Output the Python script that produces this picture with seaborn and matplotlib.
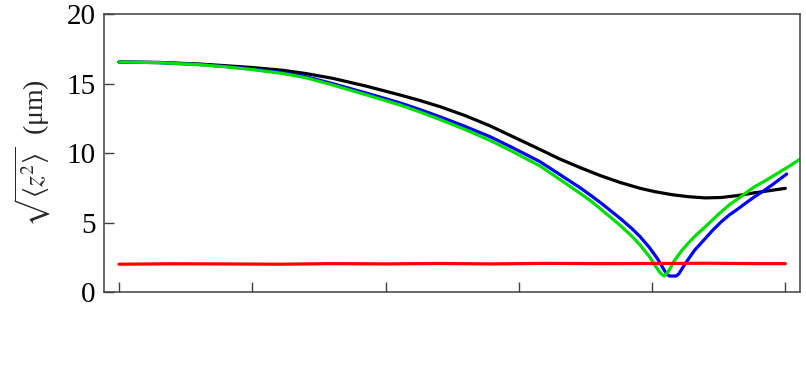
import matplotlib
matplotlib.use("Agg")
import matplotlib.pyplot as plt
import seaborn as sns

# datos (x en unidades de marca, y en um)
x_black = [0, 0.3, 0.61, 0.8, 1.0, 1.23, 1.4, 1.6, 1.86, 2.11, 2.25, 2.41, 2.6, 2.785, 2.95,
           3.16, 3.3, 3.46, 3.61, 3.76, 3.91, 4.02, 4.15, 4.27, 4.4, 4.52, 4.65, 4.77, 4.9, 5.0]
y_black = [16.55, 16.52, 16.4, 16.28, 16.15, 15.95, 15.72, 15.38, 14.8, 14.17, 13.8, 13.33, 12.68, 11.95, 11.2,
           10.25, 9.6, 8.95, 8.38, 7.88, 7.46, 7.22, 7.0, 6.86, 6.77, 6.8, 6.95, 7.14, 7.32, 7.46]

x_blue = [0, 0.3, 0.61, 0.8, 1.0, 1.23, 1.4, 1.6, 1.86, 2.11, 2.25, 2.41, 2.6, 2.785, 2.95,
          3.16, 3.3, 3.46, 3.54, 3.61, 3.76, 3.85, 3.91, 3.98, 4.04, 4.08, 4.11, 4.13, 4.18, 4.2,
          4.25, 4.32, 4.4, 4.46, 4.52, 4.58, 4.65, 4.71, 4.77, 4.84, 4.9, 5.01]
y_blue = [16.55, 16.5, 16.36, 16.22, 16.05, 15.78, 15.5, 15.0, 14.3, 13.6, 13.15, 12.6, 11.9, 11.17, 10.4,
          9.37, 8.5, 7.5, 6.95, 6.45, 5.3, 4.55, 3.98, 3.2, 2.4, 1.75, 1.28, 1.15, 1.15, 1.3,
          2.06, 3.02, 3.86, 4.5, 5.06, 5.55, 6.02, 6.45, 6.86, 7.3, 7.7, 8.49]

x_green = [0, 0.3, 0.61, 0.8, 1.0, 1.23, 1.4, 1.6, 1.86, 2.11, 2.25, 2.41, 2.6, 2.785, 2.95,
           3.16, 3.3, 3.46, 3.54, 3.61, 3.76, 3.85, 3.91, 3.98, 4.03, 4.06, 4.09, 4.12, 4.17, 4.22,
           4.27, 4.33, 4.4, 4.46, 4.52, 4.58, 4.65, 4.71, 4.77, 4.84, 4.9, 4.96, 5.02, 5.15]
y_green = [16.55, 16.5, 16.35, 16.2, 16.0, 15.72, 15.42, 14.9, 14.17, 13.45, 12.98, 12.4, 11.68, 10.9, 10.12,
           9.06, 8.15, 7.1, 6.55, 6.0, 4.8, 4.0, 3.38, 2.54, 1.8, 1.38, 1.15, 1.45, 2.3, 2.95,
           3.5, 4.1, 4.7, 5.25, 5.78, 6.28, 6.74, 7.18, 7.58, 7.95, 8.3, 8.65, 9.0, 9.8]

x_red = [0, 0.4, 0.8, 1.2, 1.6, 2.0, 2.4, 2.8, 3.2, 3.6, 4.0, 4.4, 4.8, 5.0]
y_red = [2.0, 2.03, 2.02, 2.0, 2.04, 2.02, 2.05, 2.02, 2.06, 2.04, 2.05, 2.07, 2.04, 2.04]

x_ticks = [0, 1, 2, 3, 4, 5]
y_ticks = [0, 5, 10, 15, 20]

# estilo
sns.set_style("ticks")
plt.rcParams["font.family"] = ["Liberation Serif", "DejaVu Serif"]
plt.rcParams["mathtext.fontset"] = "stix"

fig, ax = plt.subplots(figsize=(8.06, 3.83), dpi=100)
fig.subplots_adjust(left=0.129, right=0.9926, top=0.9634, bottom=0.2376)

lw = 2.3
sns.lineplot(x=x_black, y=y_black, color="black", lw=lw, ax=ax)
sns.lineplot(x=x_blue, y=y_blue, color="#0000ff", lw=lw, ax=ax)
sns.lineplot(x=x_green, y=y_green, color="#00e000", lw=lw, ax=ax)
sns.lineplot(x=x_red, y=y_red, color="#ff0000", lw=lw, ax=ax)

ax.set_xlim(-0.113, 5.11)
ax.set_ylim(0, 20)
ax.set_xticks(x_ticks)
ax.set_xticklabels([])
ax.set_yticks(y_ticks)
ax.tick_params(direction="in", length=7, width=1, colors="#404040", labelcolor="black",
               labelsize=21, pad=6)
for s in ax.spines.values():
    s.set_color("#404040")
    s.set_linewidth(1.1)

ax.set_ylabel(r"$\sqrt{\langle z^2\rangle}$  (μm)", fontsize=20, labelpad=10)

plt.savefig("out.png", dpi=100)
